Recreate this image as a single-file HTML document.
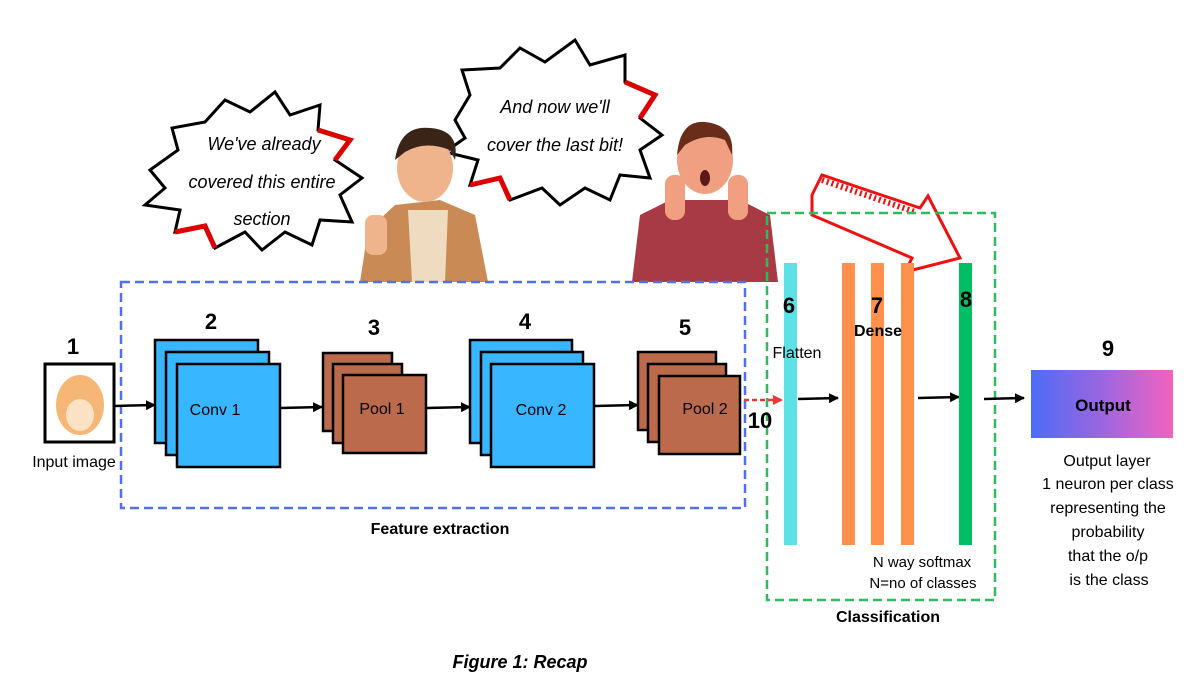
<!DOCTYPE html>
<html><head><meta charset="utf-8"><style>
html,body{margin:0;padding:0;background:#fff;}
svg{display:block;}
text{font-family:"Liberation Sans",sans-serif;}
</style></head><body>
<svg width="1192" height="684" viewBox="0 0 1192 684" xmlns="http://www.w3.org/2000/svg">
<defs>
<linearGradient id="g" x1="0" x2="1"><stop offset="0" stop-color="#4d6cf8"/><stop offset="0.5" stop-color="#9b66e0"/><stop offset="1" stop-color="#f262bf"/></linearGradient>
<marker id="a" markerUnits="userSpaceOnUse" markerWidth="10" markerHeight="10" refX="9" refY="5" orient="auto"><path d="M0,0L10,5L0,10z" fill="#000"/></marker>
<marker id="r" markerUnits="userSpaceOnUse" markerWidth="10" markerHeight="10" refX="9" refY="5" orient="auto"><path d="M0,0L10,5L0,10z" fill="#e53935"/></marker>
</defs>
<!-- speech bubble 1 -->
<path d="M150,170 L178,150 L172,128 L205,122 L225,100 L250,112 L275,92 L290,115 L320,105 L318,130 L350,140 L335,160 L362,178 L340,195 L352,222 L320,220 L312,245 L285,232 L262,250 L245,232 L215,248 L205,226 L175,232 L180,210 L145,205 L165,188 Z" fill="#fff" stroke="#000" stroke-width="3"/>
<path d="M318,130 L350,140 L335,160" fill="none" stroke="#d00" stroke-width="5"/>
<path d="M215,248 L205,226 L175,232" fill="none" stroke="#d00" stroke-width="5"/>
<text x="264" y="150" font-size="18" text-anchor="middle" font-style="italic">We've already</text>
<text x="262" y="188" font-size="18" text-anchor="middle" font-style="italic">covered this entire</text>
<text x="262" y="225" font-size="18" text-anchor="middle" font-style="italic">section</text>
<!-- speech bubble 2 -->
<path d="M455,120 L470,95 L462,70 L500,68 L520,48 L545,62 L575,40 L590,65 L625,55 L625,82 L655,95 L640,118 L662,135 L640,150 L650,178 L620,175 L610,200 L585,188 L560,205 L542,188 L510,200 L500,178 L470,185 L478,160 L445,152 L465,138 Z" fill="#fff" stroke="#000" stroke-width="3"/>
<path d="M625,82 L655,95 L640,118" fill="none" stroke="#d00" stroke-width="5"/>
<path d="M510,200 L500,178 L470,185" fill="none" stroke="#d00" stroke-width="5"/>
<text x="555" y="113" font-size="18" text-anchor="middle" font-style="italic">And now we'll</text>
<text x="555" y="151" font-size="18" text-anchor="middle" font-style="italic">cover the last bit!</text>
<!-- person 1 -->
<path d="M360,282 L368,230 L395,205 L440,200 L475,215 L488,282 Z" fill="#c98a55"/>
<path d="M408,210 L448,210 L445,282 L412,282 Z" fill="#efdcc0"/>
<ellipse cx="425" cy="168" rx="28" ry="34" fill="#f0b48c"/>
<path d="M395,160 Q400,125 430,128 Q460,130 455,160 L450,150 Q425,140 405,152 Z" fill="#3a2418"/>
<rect x="365" y="215" width="22" height="40" rx="8" fill="#f0b48c"/>
<!-- person 2 -->
<path d="M632,282 L640,215 L670,200 L740,200 L770,215 L778,282 Z" fill="#a83a45"/>
<ellipse cx="705" cy="160" rx="28" ry="34" fill="#f0a080"/>
<path d="M677,155 Q680,120 705,122 Q735,125 732,155 L725,140 Q705,132 685,145 Z" fill="#6a2d1a"/>
<ellipse cx="705" cy="178" rx="5" ry="8" fill="#5a1a1a"/>
<rect x="665" y="175" width="20" height="45" rx="9" fill="#f0a080"/>
<rect x="728" y="175" width="20" height="45" rx="9" fill="#f0a080"/>
<!-- red arrow -->
<path d="M812,195 L822,175 L920,208 L928,196 L960,258 L905,272 L912,258 L812,215 Z" fill="none" stroke="#e11" stroke-width="3"/>
<path d="M822,180 L915,212" stroke="#e11" stroke-width="6" stroke-dasharray="2,3"/>
<!-- boxes -->
<rect x="121" y="282" width="624" height="226" fill="none" stroke="#5470e8" stroke-width="2.5" stroke-dasharray="9,5"/>
<rect x="767" y="213" width="228" height="387" fill="none" stroke="#2fba5e" stroke-width="2.5" stroke-dasharray="9,5"/>
<!-- cat -->
<rect x="45" y="364" width="69" height="78" fill="#fff" stroke="#000" stroke-width="3"/>
<ellipse cx="80" cy="405" rx="24" ry="30" fill="#f6b776"/>
<ellipse cx="80" cy="415" rx="14" ry="16" fill="#fbe2c4"/>
<text x="73" y="354" font-size="22" font-weight="bold" text-anchor="middle">1</text>
<text x="74" y="467" font-size="16" text-anchor="middle">Input image</text>
<!-- conv1 -->
<g stroke="#000" stroke-width="2.5" fill="#38b6ff">
<rect x="155" y="340" width="103" height="103"/><rect x="166" y="352" width="103" height="103"/><rect x="177" y="364" width="103" height="103"/>
</g>
<text x="215" y="415" font-size="16" text-anchor="middle">Conv 1</text>
<text x="211" y="329" font-size="22" font-weight="bold" text-anchor="middle">2</text>
<g stroke="#000" stroke-width="2.5" fill="#bb6a4c">
<rect x="323" y="353" width="69" height="78"/><rect x="333" y="364" width="69" height="79"/><rect x="343" y="375" width="83" height="78"/>
</g>
<text x="382" y="414" font-size="16" text-anchor="middle">Pool 1</text>
<text x="374" y="335" font-size="22" font-weight="bold" text-anchor="middle">3</text>
<g stroke="#000" stroke-width="2.5" fill="#38b6ff">
<rect x="470" y="340" width="102" height="103"/><rect x="481" y="352" width="102" height="103"/><rect x="491" y="364" width="103" height="103"/>
</g>
<text x="541" y="415" font-size="16" text-anchor="middle">Conv 2</text>
<text x="525" y="329" font-size="22" font-weight="bold" text-anchor="middle">4</text>
<g stroke="#000" stroke-width="2.5" fill="#bb6a4c">
<rect x="638" y="352" width="78" height="78"/><rect x="648" y="364" width="78" height="78"/><rect x="659" y="376" width="81" height="78"/>
</g>
<text x="705" y="414" font-size="16" text-anchor="middle">Pool 2</text>
<text x="685" y="335" font-size="22" font-weight="bold" text-anchor="middle">5</text>
<!-- arrows -->
<g stroke="#000" stroke-width="2.5">
<line x1="114" y1="406" x2="155" y2="405" marker-end="url(#a)"/>
<line x1="280" y1="408" x2="322" y2="407" marker-end="url(#a)"/>
<line x1="427" y1="408" x2="470" y2="407" marker-end="url(#a)"/>
<line x1="595" y1="406" x2="638" y2="405" marker-end="url(#a)"/>
<line x1="798" y1="399" x2="838" y2="398" marker-end="url(#a)"/>
<line x1="918" y1="398" x2="959" y2="397" marker-end="url(#a)"/>
<line x1="984" y1="399" x2="1024" y2="398" marker-end="url(#a)"/>
</g>
<line x1="744" y1="400" x2="782" y2="400" stroke="#e53935" stroke-width="2.5" stroke-dasharray="5,3" marker-end="url(#r)"/>
<text x="760" y="428" font-size="22" font-weight="bold" text-anchor="middle">10</text>
<!-- bars -->
<rect x="784" y="263" width="13" height="282" fill="#5ce1e6"/>
<rect x="842" y="263" width="13" height="282" fill="#ff914d"/>
<rect x="871" y="263" width="13" height="282" fill="#ff914d"/>
<rect x="901" y="263" width="13" height="282" fill="#ff914d"/>
<rect x="959" y="263" width="13" height="282" fill="#00bf63"/>
<text x="789" y="313" font-size="22" font-weight="bold" text-anchor="middle">6</text>
<text x="877" y="313" font-size="22" font-weight="bold" text-anchor="middle">7</text>
<text x="966" y="307" font-size="22" font-weight="bold" text-anchor="middle">8</text>
<text x="878" y="336" font-size="16" font-weight="bold" text-anchor="middle">Dense</text>
<text x="797" y="358" font-size="16" text-anchor="middle">Flatten</text>
<text x="922" y="567" font-size="15" text-anchor="middle">N way softmax</text>
<text x="923" y="588" font-size="15" text-anchor="middle">N=no of classes</text>
<!-- output -->
<rect x="1031" y="370" width="142" height="68" fill="url(#g)"/>
<text x="1103" y="411" font-size="17" font-weight="bold" text-anchor="middle">Output</text>
<text x="1108" y="356" font-size="22" font-weight="bold" text-anchor="middle">9</text>
<g font-size="16" text-anchor="middle">
<text x="1107" y="466">Output layer</text>
<text x="1108" y="489">1 neuron per class</text>
<text x="1108" y="513">representing the</text>
<text x="1108" y="537">probability</text>
<text x="1108" y="561">that the o/p</text>
<text x="1109" y="585">is the class</text>
</g>
<text x="440" y="534" font-size="16" font-weight="bold" text-anchor="middle">Feature extraction</text>
<text x="888" y="622" font-size="16" font-weight="bold" text-anchor="middle">Classification</text>
<text x="520" y="668" font-size="18" font-weight="bold" font-style="italic" text-anchor="middle">Figure 1: Recap</text>
</svg>
</body></html>
